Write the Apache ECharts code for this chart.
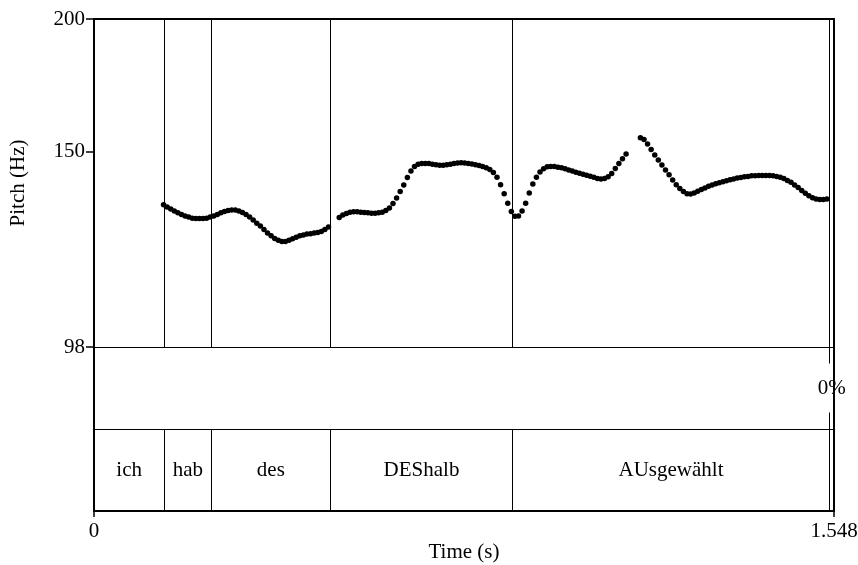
<!DOCTYPE html>
<html>
<head>
<meta charset="utf-8">
<title>Pitch (Hz)</title>
<script src="https://cdn.jsdelivr.net/npm/echarts@6/dist/echarts.min.js"></script>
<style>
  html, body { margin: 0; padding: 0; background: #ffffff; }
  #chart { width: 858px; height: 565px; }
</style>
</head>
<body>
<div id="chart"></div>
<script>
// Time axis (s) and pitch axis ticks (Hz)
const DURATION = 1.548;
const FRAME_STEP = 0.0075;          // pitch analysis time step (s)
const timeTicks = [0, 1.548];
const pitchTicks = [98, 150, 200];

// Pitch track in Hz, one value per analysis frame, split at unvoiced gaps
const seg1Start = 0.1455;
const seg1Hz = [133.5, 132.9, 132.3, 131.7, 131.2, 130.7, 130.3, 130.0, 129.7, 129.6,
                129.6, 129.6, 129.7, 130.0, 130.3, 130.7, 131.2, 131.6, 131.9, 132.0,
                132.0, 131.7, 131.3, 130.7, 130.0, 129.2, 128.3, 127.5, 126.5, 125.6,
                124.8, 124.1, 123.6, 123.3, 123.3, 123.6, 124.0, 124.4, 124.8, 125.0,
                125.3, 125.4, 125.6, 125.7, 126.0, 126.5, 127.2];
const seg2Start = 0.5130;
const seg2Hz = [129.9, 130.6, 131.0, 131.4, 131.5, 131.5, 131.4, 131.3, 131.2, 131.1,
                131.1, 131.2, 131.4, 131.9, 132.6, 133.9, 135.5, 137.4, 139.4, 141.7,
                143.7, 145.1, 145.8, 146.1, 146.1, 146.1, 145.8, 145.7, 145.5, 145.5,
                145.7, 145.8, 146.1, 146.2, 146.3, 146.2, 146.1, 145.9, 145.7, 145.4,
                145.1, 144.7, 144.2, 143.2, 141.8, 139.5, 136.8, 134.0, 131.6, 130.2,
                130.3, 131.7, 134.0, 137.0, 139.7, 141.8, 143.4, 144.4, 145.0, 145.1,
                145.1, 144.9, 144.7, 144.4, 144.0, 143.7, 143.3, 143.0, 142.7, 142.4,
                142.1, 141.8, 141.4, 141.2, 141.4, 141.9, 142.9, 144.5, 146.1, 147.6,
                149.1];
const seg3Start = 1.1430;
const seg3Hz = [154.5, 153.9, 152.4, 150.6, 148.8, 147.2, 145.6, 144.0, 142.5, 140.9,
                139.5, 138.3, 137.4, 136.8, 136.7, 137.0, 137.5, 138.0, 138.5, 139.0,
                139.4, 139.8, 140.1, 140.4, 140.7, 141.0, 141.2, 141.5, 141.7, 141.9,
                142.0, 142.2, 142.2, 142.3, 142.3, 142.3, 142.3, 142.2, 142.0, 141.8,
                141.4, 140.8, 140.2, 139.4, 138.6, 137.7, 136.9, 136.2, 135.6, 135.2,
                135.1, 135.1, 135.2];

// Text grid: word tier and a second (annotation) tier
const wordBounds = [0, 0.1471, 0.2454, 0.4943, 0.8759, 1.5382, 1.548];
const words = ['ich', 'hab', 'des', 'DEShalb', 'AUsgewählt', ''];
const tier2Bounds = [0, 1.5382, 1.548];
const tier2Labels = ['', '0%'];

const FONT = '"Liberation Serif", "Times New Roman", serif';
const FONT_SIZE = 21;

function track(start, values) {
  return values.map((hz, i) => [start + i * FRAME_STEP, hz]);
}
const pitchPoints = [].concat(track(seg1Start, seg1Hz), track(seg2Start, seg2Hz), track(seg3Start, seg3Hz));

// Frame coordinates (grid 1): word tier 0..1, annotation tier 1..2, pitch panel 2..6
const WORD_ROW = [0, 1], NOTE_ROW = [1, 2], PITCH_ROW = [2, 6];
const frameLines = [];
frameLines.push({ coords: [[0, 1], [DURATION, 1]] });
frameLines.push({ coords: [[0, 2], [DURATION, 2]] });
wordBounds.slice(1, -1).forEach(b => {
  frameLines.push({ coords: [[b, PITCH_ROW[0]], [b, PITCH_ROW[1]]] });
  frameLines.push({ coords: [[b, WORD_ROW[0]], [b, WORD_ROW[1]]] });
});
tier2Bounds.slice(1, -1).forEach(b => {
  frameLines.push({ coords: [[b, NOTE_ROW[0]], [b, NOTE_ROW[1]]] });
});

const tierText = [];
words.forEach((w, i) => {
  if (w) tierText.push([(wordBounds[i] + wordBounds[i + 1]) / 2, 0.5, w, 0]);
});
tier2Labels.forEach((w, i) => {
  if (w) tierText.push([(tier2Bounds[i] + tier2Bounds[i + 1]) / 2, 1.5, w, 1]);
});

const chart = echarts.init(document.getElementById('chart'), null, { renderer: 'canvas' });
const axisText = { color: '#000', fontFamily: FONT, fontSize: FONT_SIZE };
const frameAxisLine = { show: true, onZero: false, lineStyle: { color: '#000', width: 2 } };

chart.setOption({
  animation: false,
  backgroundColor: '#ffffff',
  grid: [
    { left: 94, top: 19, width: 740, height: 328, outerBoundsMode: 'none' },
    { left: 94, top: 19, width: 740, height: 492, outerBoundsMode: 'none' }
  ],
  xAxis: [
    { gridIndex: 0, type: 'value', min: 0, max: DURATION, show: false },
    {
      gridIndex: 1, type: 'value', min: 0, max: DURATION, position: 'bottom',
      axisLine: frameAxisLine,
      axisTick: { show: true, length: 6, customValues: timeTicks, lineStyle: { color: '#000', width: 1.5 } },
      axisLabel: {
        show: true, customValues: timeTicks, margin: 10, ...axisText,
        formatter: v => (v === 0 ? '0' : v.toFixed(3))
      },
      splitLine: { show: false },
      name: 'Time (s)', nameLocation: 'middle', nameGap: 31, nameMoveOverlap: false,
      nameTextStyle: { ...axisText }
    },
    {
      gridIndex: 1, type: 'value', min: 0, max: DURATION, position: 'top',
      axisLine: frameAxisLine,
      axisTick: { show: false }, axisLabel: { show: false }, splitLine: { show: false }
    }
  ],
  yAxis: [
    {
      gridIndex: 0, type: 'log', logBase: 10, min: 98, max: 200,
      axisLine: { show: false },
      axisTick: { show: true, length: 8, customValues: pitchTicks, lineStyle: { color: '#000', width: 1.5 } },
      axisLabel: {
        show: true, customValues: pitchTicks, margin: 9, ...axisText,
        formatter: v => String(Math.round(v))
      },
      splitLine: { show: false },
      minorTick: { show: false },
      name: 'Pitch (Hz)', nameLocation: 'middle', nameGap: 65, nameRotate: 90, nameMoveOverlap: false,
      nameTextStyle: { ...axisText }
    },
    {
      gridIndex: 1, type: 'value', min: 0, max: 6, position: 'left',
      axisLine: frameAxisLine,
      axisTick: { show: false }, axisLabel: { show: false }, splitLine: { show: false }
    },
    {
      gridIndex: 1, type: 'value', min: 0, max: 6, position: 'right', z: 5,
      axisLine: frameAxisLine,
      axisTick: { show: false }, axisLabel: { show: false }, splitLine: { show: false }
    }
  ],
  series: [
    {
      type: 'lines', coordinateSystem: 'cartesian2d', xAxisIndex: 1, yAxisIndex: 1,
      data: frameLines, silent: true, z: 1,
      lineStyle: { color: '#000', width: 1, opacity: 1 }
    },
    {
      type: 'custom', coordinateSystem: 'cartesian2d', xAxisIndex: 1, yAxisIndex: 1,
      data: tierText, silent: true, z: 3,
      renderItem: function (params, api) {
        const p = api.coord([api.value(0), api.value(1)]);
        const item = tierText[params.dataIndex];
        const boxed = item[3] === 1;
        return {
          type: 'text', x: p[0], y: p[1],
          style: {
            text: item[2], fill: '#000',
            font: FONT_SIZE + 'px ' + FONT,
            align: 'center', verticalAlign: 'middle',
            backgroundColor: boxed ? '#ffffff' : 'transparent',
            padding: boxed ? [14, 1] : 0
          }
        };
      }
    },
    {
      type: 'scatter', xAxisIndex: 0, yAxisIndex: 0,
      data: pitchPoints, symbol: 'circle', symbolSize: 5.5, silent: true, z: 4,
      itemStyle: { color: '#000', opacity: 1 }
    }
  ]
});
</script>
</body>
</html>
